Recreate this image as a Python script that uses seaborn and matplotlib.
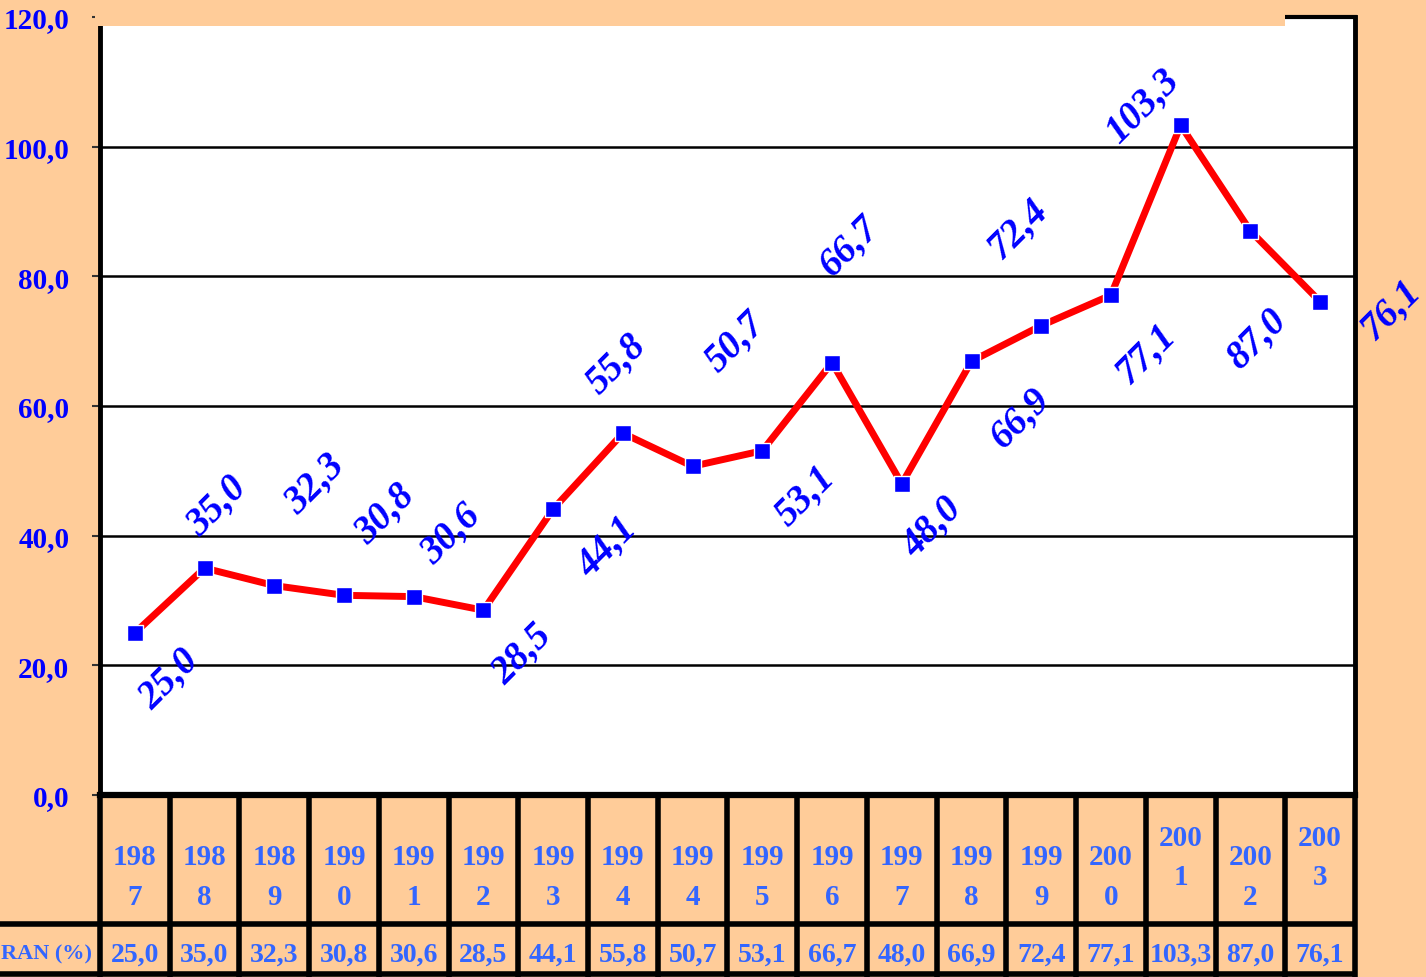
import numpy as np
import pandas as pd
import seaborn as sns
import matplotlib.pyplot as plt
from matplotlib.patches import Rectangle

# data
years = ["198\n7", "198\n8", "198\n9", "199\n0", "199\n1", "199\n2", "199\n3",
         "199\n4", "199\n4", "199\n5", "199\n6", "199\n7", "199\n8", "199\n9",
         "200\n0", "200\n1\n", "200\n2", "200\n3\n"]
values = [25.0, 35.0, 32.3, 30.8, 30.6, 28.5, 44.1, 55.8, 50.7, 53.1,
          66.7, 48.0, 66.9, 72.4, 77.1, 103.3, 87.0, 76.1]
row_label = "RAN (%)"
y_ticks = [0, 20, 40, 60, 80, 100, 120]

# where each value label sits relative to its marker (pixels, right / down)
label_offsets = [(35, 46), (13, -62), (41, -102), (41, -82), (38, -63), (39, 44),
                 (55, 38), (-6, -69), (43, -124), (43, 45), (18, -117), (31, 43),
                 (49, 57), (-23, -97), (35, 59), (-38, -19), (7, 108), (71, 8)]

PEACH = "#FFCC99"
BLUE = "#0000FF"
TBLUE = "#3366FF"
SERIF = "Liberation Serif"

def fmt(v):
    return "{:.1f}".format(v).replace(".", ",")

sns.set_theme(style="white")
plt.rcParams["font.family"] = [SERIF, "DejaVu Serif"]

df = pd.DataFrame({"pos": np.arange(len(values)), "value": values})

fig = plt.figure(figsize=(14.26, 9.78), dpi=100)
fig.patch.set_facecolor(PEACH)
ax = fig.add_axes([0.0701, 0.1861, 0.8801, 0.7955])
ax.set_facecolor("white")

sns.lineplot(data=df, x="pos", y="value", ax=ax, color="red", linewidth=5,
             marker="s", markersize=12, markerfacecolor=BLUE,
             markeredgecolor="white", markeredgewidth=1, zorder=3)

ax.set_xlim(-0.5, len(values) - 0.5)
ax.set_ylim(0, 120)
ax.set_yticks(y_ticks)
ax.set_yticklabels([fmt(t) for t in y_ticks], color=BLUE, fontsize=21,
                   fontweight="bold", family=SERIF)
ax.set_xticks([])
ax.set_xlabel("")
ax.set_ylabel("")
ax.tick_params(axis="y", direction="out", length=6, width=1.5, color="#333333", pad=16, left=True)
ax.yaxis.grid(True, color="black", linewidth=1.8)
ax.set_axisbelow(True)

for side, lw in [("left", 3.5), ("right", 3.5), ("bottom", 4.5), ("top", 3)]:
    ax.spines[side].set_visible(True)
    ax.spines[side].set_color("black")
    ax.spines[side].set_linewidth(lw)

# value labels, rotated
for i, (v, (dx, dy)) in enumerate(zip(values, label_offsets)):
    ax.annotate(fmt(v), (i, v), xytext=(dx * 0.72, -dy * 0.72),
                textcoords="offset points", ha="center", va="center",
                rotation=45, rotation_mode="anchor", color=BLUE, fontsize=28,
                fontweight="bold", fontstyle="italic", family=SERIF, zorder=4)

# data table under the plot
tr = ax.get_xaxis_transform()
n = len(values)
row1_bottom = -0.1658
row2_bottom = -0.2301
for k in range(n + 1):
    ax.plot([k - 0.5, k - 0.5], [0, row2_bottom - 0.01], transform=tr, color="black",
            linewidth=4, clip_on=False, solid_capstyle="butt")
ax.plot([-0.085, 1.0], [row1_bottom, row1_bottom], transform=ax.transAxes, color="black",
        linewidth=4, clip_on=False, solid_capstyle="butt")
ax.plot([-0.085, 1.0], [row2_bottom, row2_bottom], transform=ax.transAxes, color="black",
        linewidth=4, clip_on=False, solid_capstyle="butt")

for i, (yr, v) in enumerate(zip(years, values)):
    ax.text(i, -0.105, yr, transform=tr, ha="center", va="center", color=TBLUE,
            fontsize=21, fontweight="bold", family=SERIF, linespacing=1.6, clip_on=False)
    ax.text(i, -0.204, fmt(v), transform=tr, ha="center", va="center", color=TBLUE,
            fontsize=20, fontweight="bold", family=SERIF, clip_on=False)
ax.text(-0.006, -0.204, row_label, transform=ax.transAxes, ha="right", va="center",
        color=TBLUE, fontsize=16, fontweight="bold", family=SERIF, clip_on=False)

# peach strip over the top of the plot area
fig.patches.append(Rectangle((95 / 1426, 1 - 27 / 978), (1285 - 95) / 1426, 27 / 978,
                             transform=fig.transFigure, facecolor=PEACH,
                             edgecolor="none", zorder=5))

fig.savefig("out.png", dpi=100, facecolor=PEACH)
